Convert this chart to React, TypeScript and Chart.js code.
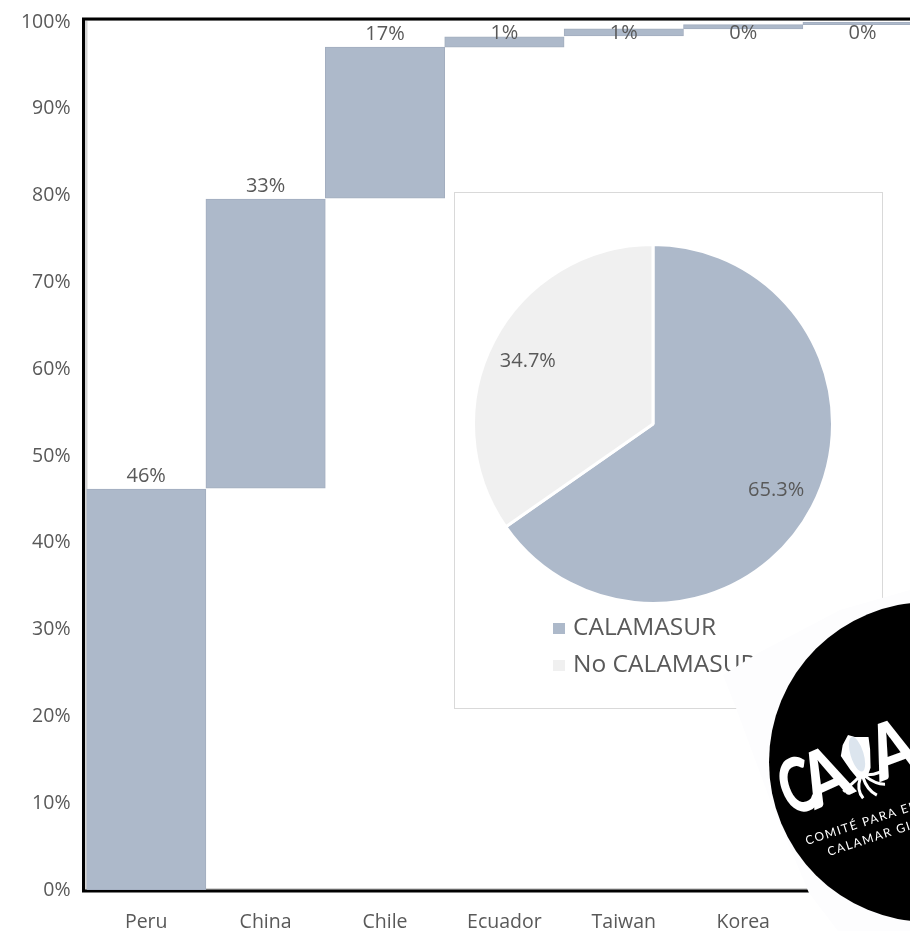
import React, { useEffect, useRef } from "react";
import { Chart, registerables } from "chart.js";

Chart.register(...registerables);

const categories = ["Peru", "China", "Chile", "Ecuador", "Taiwan", "Korea", ""];
const barStarts = [0, 46.3, 79.7, 97.1, 98.4, 99.2, 99.7];
const barEnds = [46.2, 79.6, 97.1, 98.3, 99.2, 99.7, 100];
const barLabels = ["46%", "33%", "17%", "1%", "1%", "0%", "0%"];
const pieLabels = ["CALAMASUR", "No CALAMASUR"];
const pieValues = [65.3, 34.7];

const BLUE = "#adb9ca";
const GREY_LIGHT = "#f0f0f0";
const TEXT = "#595959";
const FONT = "'Open Sans', sans-serif";

const framePlugin = {
  id: "frame",
  beforeDatasetsDraw(chart: any) {
    const { ctx, chartArea: a } = chart;
    const left = a.left - 3;
    const top = a.top - 3;
    const bottom = a.bottom + 1;
    ctx.save();
    ctx.fillStyle = "#d4d4d4";
    ctx.fillRect(left + 1, top, 3, bottom - top);
    ctx.fillRect(left, bottom - 3, a.right - left, 2);
    ctx.fillRect(left, top + 1, a.right - left, 1);
    ctx.strokeStyle = "#000";
    ctx.lineWidth = 3;
    ctx.beginPath();
    ctx.moveTo(left, bottom);
    ctx.lineTo(left, top);
    ctx.lineTo(a.right, top);
    ctx.moveTo(left - 1.5, bottom);
    ctx.lineTo(a.right, bottom);
    ctx.stroke();
    ctx.restore();
  },
};

const barLabelPlugin = {
  id: "barLabels",
  afterDatasetsDraw(chart: any) {
    const { ctx } = chart;
    const bars = chart.getDatasetMeta(0).data;
    ctx.save();
    ctx.font = `20px ${FONT}`;
    ctx.fillStyle = TEXT;
    ctx.textAlign = "center";
    ctx.textBaseline = "middle";
    bars.forEach((bar: any, i: number) => {
      const top = bar.getProps(["y"], true).y;
      ctx.fillText(barLabels[i], bar.x, Math.max(top - 13, 33));
    });
    ctx.restore();
  },
};

const pieLabelPlugin = {
  id: "pieLabels",
  afterDatasetsDraw(chart: any) {
    const { ctx } = chart;
    ctx.save();
    ctx.font = `20px ${FONT}`;
    ctx.fillStyle = TEXT;
    ctx.textAlign = "center";
    ctx.textBaseline = "middle";
    chart.getDatasetMeta(0).data.forEach((arc: any, i: number) => {
      const mid = (arc.startAngle + arc.endAngle) / 2;
      const r = arc.outerRadius * 0.78;
      ctx.fillText(
        `${pieValues[i].toFixed(1)}%`,
        arc.x + Math.cos(mid) * r - 1,
        arc.y + Math.sin(mid) * r + 2,
      );
    });
    // legend stacked under the pie
    ctx.font = `24.5px ${FONT}`;
    ctx.textAlign = "left";
    const colors = chart.data.datasets[0].backgroundColor;
    chart.data.labels.forEach((label: string, i: number) => {
      const y = 435 + i * 37;
      ctx.fillStyle = colors[i];
      ctx.fillRect(99, y - 4, 12, 11);
      ctx.fillStyle = TEXT;
      ctx.fillText(label, 119, y + 1);
    });
    ctx.restore();
  },
};

function Logo() {
  return (
    <svg
      width={910}
      height={931}
      style={{ position: "absolute", left: 0, top: 0, pointerEvents: "none" }}
    >
      <polygon
        points="723,675 760,652 840,610 910,590 910,931 838,931 809,893 770,800 736,708"
        fill="#fdfdfe"
      />
      <circle cx={929} cy={762} r={160} fill="#000" />
      <g fill="#fff" fontFamily="Lato, sans-serif" fontWeight={900} fontSize={76}>
        <text transform="translate(790,817) rotate(-20) scale(0.68,1)">C</text>
        <text transform="translate(815,810) rotate(-24) scale(0.85,1)">A</text>
        <text transform="translate(880,782) rotate(-20) scale(0.85,1)">A</text>
      </g>
      <g transform="translate(848,735) rotate(-17)">
        <path d="M0 0 L6 4 L19 8 L17 20 L12 38 L6 46 L-3 46 L-8 34 L-13 18 L-8 8 Z" fill="#fff" />
        <ellipse cx={3} cy={21} rx={6.5} ry={18} fill="#dce5ee" />
        <path
          d="M-3 44 C-10 48 -16 50 -21 53 M-1 45 C-6 52 -7 58 -4 65 M2 45 C2 53 4 60 10 66 M4 44 C9 51 14 56 21 58 M5 43 C13 46 21 46 27 42"
          fill="none"
          stroke="#fff"
          strokeWidth={3}
        />
      </g>
      <g fill="#fff" fontFamily="Lato, sans-serif" fontSize={12} letterSpacing={1.5}>
        <text x={807} y={845} transform="rotate(-18 807 845)">COMITÉ PARA EL</text>
        <text x={829} y={856} transform="rotate(-18 829 856)">CALAMAR GIGANTE</text>
      </g>
    </svg>
  );
}

export default function App() {
  const barRef = useRef<HTMLCanvasElement>(null);
  const pieRef = useRef<HTMLCanvasElement>(null);

  useEffect(() => {
    document.body.style.margin = "0";
    document.body.style.overflow = "hidden";

    const bar = new Chart(barRef.current!, {
      type: "bar",
      data: {
        labels: categories,
        datasets: [
          {
            data: barStarts.map((s, i) => [s, barEnds[i]]),
            backgroundColor: BLUE,
            borderColor: "#a3aebf",
            borderWidth: 1,
            borderSkipped: false,
            barPercentage: 1,
            categoryPercentage: 1,
          },
        ],
      },
      options: {
        animation: false,
        responsive: false,
        layout: { padding: { top: 22, right: 7.7, left: 0, bottom: 0 } },
        plugins: { legend: { display: false }, tooltip: { enabled: false } },
        scales: {
          x: {
            grid: { display: false },
            border: { display: false },
            ticks: {
              color: TEXT,
              font: { size: 19.5, family: FONT },
              padding: 13,
              maxRotation: 0,
              autoSkip: false,
            },
            afterFit(s: any) {
              s.height = 41;
            },
          },
          y: {
            min: 0,
            max: 100,
            grid: { display: false },
            border: { display: false },
            ticks: {
              stepSize: 10,
              color: TEXT,
              font: { size: 19.5, family: FONT },
              padding: 8,
              callback: (v: any) => `${v}%`,
            },
            afterFit(s: any) {
              s.width = 86.5;
            },
          },
        },
      },
      plugins: [framePlugin, barLabelPlugin],
    } as any);

    const pie = new Chart(pieRef.current!, {
      type: "pie",
      data: {
        labels: pieLabels,
        datasets: [
          {
            data: pieValues,
            backgroundColor: [BLUE, GREY_LIGHT],
            borderColor: "#fff",
            borderWidth: 3,
          },
        ],
      },
      options: {
        animation: false,
        responsive: false,
        layout: { padding: { top: 51, bottom: 103, left: 18, right: 48 } },
        plugins: { legend: { display: false }, tooltip: { enabled: false } },
      },
      plugins: [pieLabelPlugin],
    } as any);

    return () => {
      bar.destroy();
      pie.destroy();
    };
  }, []);

  return (
    <div style={{ position: "relative", width: 910, height: 931, overflow: "hidden", background: "#fff" }}>
      <canvas ref={barRef} width={930} height={931} style={{ position: "absolute", left: 0, top: 0 }} />
      <div
        style={{
          position: "absolute",
          left: 454,
          top: 192,
          width: 429,
          height: 517,
          boxSizing: "border-box",
          border: "1px solid #d9d9d9",
          background: "#fff",
        }}
      />
      <canvas ref={pieRef} width={428} height={516} style={{ position: "absolute", left: 454, top: 192 }} />
      <Logo />
    </div>
  );
}
